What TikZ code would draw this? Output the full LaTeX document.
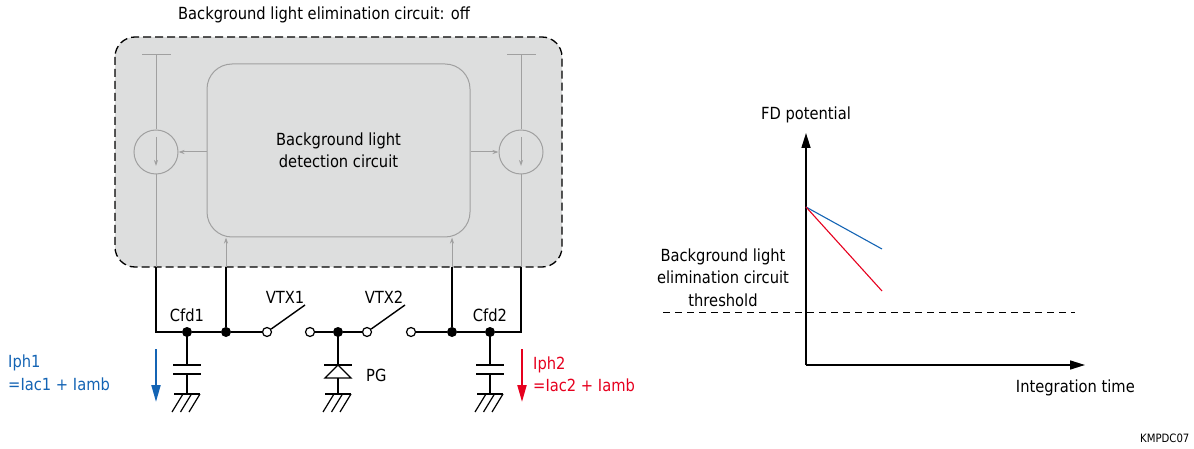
\documentclass[tikz,border=0pt]{standalone}
\usepackage{fontspec}
\setmainfont{DejaVu Sans}[FakeStretch=0.88]
\usetikzlibrary{arrows.meta}
\definecolor{boxgray}{RGB}{221,222,222}
\definecolor{lgray}{RGB}{160,160,160}
\definecolor{hblue}{RGB}{20,100,180}
\definecolor{hred}{RGB}{230,0,30}
\tikzset{
  wire/.style={line width=1.4pt, black},
  gwire/.style={line width=1pt, lgray},
  gtip/.style={-{Stealth[length=6pt,width=4pt]}},
  dotnode/.style={circle, fill=black, inner sep=0pt, minimum size=10pt},
  odot/.style={circle, draw=black, fill=white, line width=1.2pt, inner sep=0pt, minimum size=9pt},
  lbl/.style={font=\fontsize{16.7}{22.5}\selectfont, inner sep=0pt},
  srcnode/.style={circle, draw=lgray, line width=1pt, inner sep=0pt, minimum size=44pt},
  bigtip/.style={-{Triangle[length=17pt,width=9pt]}},
  axis/.style={line width=1.6pt, -{Triangle[length=15pt,width=9pt]}}
}
\begin{document}
\begin{tikzpicture}[x=1pt,y=-1pt]
\useasboundingbox (0,0) rectangle (1194,449);

% title
\node[lbl] (title) at (324,15) {Background light elimination circuit: off};

% outer dashed box
\draw[fill=boxgray, line width=1.3pt, dash pattern=on 8pt off 4pt, rounded corners=20pt] (115,37) rectangle (562,267);

% detection circuit
\node[lbl, draw=lgray, line width=1pt, rounded corners=25pt, minimum width=263pt, minimum height=173pt, align=center] (det) at (338.5,150.5) {Background light\\detection circuit};

% current sources
\node[srcnode] (cs1) at (156,152) {};
\node[srcnode] (cs2) at (521,152) {};
\coordinate (t1) at (156,55);
\coordinate (t2) at (521,55);
\draw[gwire] (142,55) -- (171,55);
\draw[gwire] (507,55) -- (536,55);
\draw[gwire] (t1) -- (cs1.north);
\draw[gwire] (t2) -- (cs2.north);
\draw[gwire, gtip] (156,137) -- (156,166);
\draw[gwire, gtip] (521,137) -- (521,166);
\draw[gwire, gtip] (det.west |- cs1) -- (cs1.east);
\draw[gwire, gtip] (det.east |- cs2) -- (cs2.west);
\coordinate (e1) at (156,267);
\coordinate (e2) at (521,267);
\coordinate (e3) at (226,267);
\coordinate (e4) at (452,267);
\draw[gwire] (cs1.south) -- (e1);
\draw[gwire] (cs2.south) -- (e2);
\draw[gwire, gtip] (e3) -- (det.south -| e3);
\draw[gwire, gtip] (e4) -- (det.south -| e4);

% bottom nodes
\node[dotnode] (c1) at (187,332) {};
\node[dotnode] (j1) at (226,332) {};
\node[odot] (s1a) at (267,332) {};
\node[odot] (s2b) at (310,332) {};
\node[dotnode] (pg) at (338,332) {};
\node[odot] (s2a) at (367,332) {};
\node[odot] (s3b) at (411,332) {};
\node[dotnode] (j2) at (452,332) {};
\node[dotnode] (c2) at (490,332) {};
\coordinate (l1) at (156,332);
\coordinate (r1) at (521,332);
\coordinate (sw1) at (305,305);
\coordinate (sw2) at (405,305);

\draw[wire] (e1) -- (l1) -- (c1) -- (j1) -- (s1a);
\draw[wire] (e3) -- (j1);
\draw[wire] (s1a) -- (sw1);
\draw[wire] (s2b) -- (pg) -- (s2a);
\draw[wire] (s2a) -- (sw2);
\draw[wire] (s3b) -- (j2) -- (c2) -- (r1) -- (e2);
\draw[wire] (e4) -- (j2);

% labels
\node[lbl] (lc1) at (187,315) {Cfd1};
\node[lbl] (lc2) at (490,315) {Cfd2};
\node[lbl] (lv1) at (285,297) {VTX1};
\node[lbl] (lv2) at (384,297) {VTX2};
\node[lbl, anchor=west] (lpg) at (366,375) {PG};

% capacitors
\foreach \x in {187,490}{
  \draw[wire] (\x,336) -- (\x,365);
  \draw[wire] (\x-14,365) -- (\x+14,365);
  \draw[wire] (\x-14,374) -- (\x+14,374);
  \draw[wire] (\x,374) -- (\x,394);
}
% diode
\draw[wire] (338,336) -- (338,365);
\draw[wire] (324,365) -- (352,365);
\draw[wire] (338,365) -- (325,378) -- (351,378) -- cycle;
\draw[wire] (338,378) -- (338,394);
% grounds
\foreach \x in {187,490,338}{
  \draw[wire] (\x-13,394) -- (\x+13,394);
  \foreach \d in {-4,4.5,13}{
    \draw[line width=1.2pt] (\x+\d,394) -- (\x+\d-11,412);
  }
}

% current arrows
\coordinate (ba) at (156,349);
\coordinate (bb) at (156,402);
\coordinate (ra) at (522,349);
\coordinate (rb) at (522,402);
\draw[hblue, line width=2pt, bigtip] (ba) -- (bb);
\draw[hred, line width=2pt, bigtip] (ra) -- (rb);
\node[lbl, text=hblue, anchor=west, align=left] (iph1) at (8,373) {Iph1\\=Iac1 + Iamb};
\node[lbl, text=hred, anchor=west, align=left] (iph2) at (533,374.5) {Iph2\\=Iac2 + Iamb};

% graph
\coordinate (o) at (806,365);
\coordinate (ytop) at (806,133);
\coordinate (xend) at (1085,365);
\draw[axis] (o) -- (ytop);
\draw[axis] (o) -- (xend);
\node[lbl] (fd) at (806,115) {FD potential};
\node[lbl, anchor=east] (it) at (1135,388) {Integration time};
\coordinate (p0) at (806,207);
\coordinate (pb) at (882,249);
\coordinate (pr) at (882,291);
\draw[hblue, line width=1.1pt] (p0) -- (pb);
\draw[hred, line width=1.1pt] (p0) -- (pr);
\coordinate (th1) at (663,312);
\coordinate (th2) at (1075,312);
\draw[line width=1pt, dash pattern=on 7pt off 5pt] (th1) -- (th2);
\node[lbl, align=center] (thr) at (723,277.5) {Background light\\elimination circuit\\threshold};
\node[font=\fontsize{11.5}{13}\selectfont, inner sep=0pt, anchor=west] (code) at (1140,438) {KMPDC07};
\end{tikzpicture}
\end{document}
